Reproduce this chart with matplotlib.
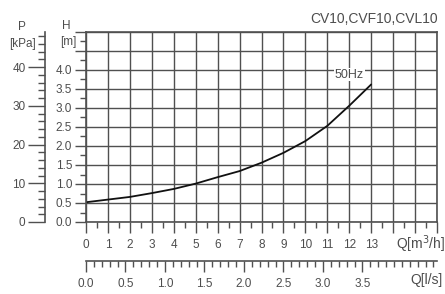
import numpy as np
import matplotlib
matplotlib.use("Agg")
import matplotlib.pyplot as plt
from matplotlib.ticker import FixedLocator

plt.rcParams['font.family'] = ['Liberation Sans', 'DejaVu Sans']

# curve
q_m3h = [0, 1, 2, 3, 4, 5, 6, 7, 8, 9, 10, 11, 12, 13]
head_m = [0.52, 0.59, 0.66, 0.76, 0.87, 1.01, 1.18, 1.34, 1.56, 1.82, 2.13, 2.53, 3.06, 3.62]

title = "CV10,CVF10,CVL10"
curve_label = "50Hz"
q_labels = [str(i) for i in range(14)]
ls_labels = ["0.0", "0.5", "1.0", "1.5", "2.0", "2.5", "3.0", "3.5"]
h_labels = ["0.0", "0.5", "1.0", "1.5", "2.0", "2.5", "3.0", "3.5", "4.0"]
p_labels = ["0", "10", "20", "30", "40"]

txt = '#4d4d4d'
grid = '#505050'
fs = 8.5

W, H = 445, 294
fig = plt.figure(figsize=(W / 100, H / 100), dpi=100)

left, right, top, bottom = 86, 437, 32, 222
ax = fig.add_axes([left / W, 1 - bottom / H, (right - left) / W, (bottom - top) / H])
ax.set_xlim(0, 16)
ax.set_ylim(0, 5)
ax.set_xticks(np.arange(0, 17, 1))
ax.set_xticklabels(q_labels + ['', '', ''])
ax.xaxis.set_minor_locator(FixedLocator(np.arange(0, 16, 0.5)))
ax.set_yticks(np.arange(0, 5.01, 0.5))
ax.set_yticklabels(h_labels + ['', ''])
ax.yaxis.set_minor_locator(FixedLocator(np.arange(0, 5, 0.25)))
ax.grid(True, which='major', color=grid, lw=1.0)
for s in ax.spines.values():
    s.set_color(grid)
    s.set_linewidth(1.2)
ax.tick_params(which='major', direction='out', length=8, width=1.0, color=grid,
               labelcolor=txt, labelsize=fs, pad=2)
ax.tick_params(which='minor', direction='out', length=4, width=1.0, color=grid)
ax.tick_params(axis='x', which='major', pad=4)

ax.plot(q_m3h, head_m, color='#111111', lw=1.3, solid_capstyle='round')
ax.text(12.0, 3.88, curve_label, ha='center', va='center', color=txt, fontsize=9,
        bbox=dict(facecolor='white', edgecolor='none', pad=0.5))

# pressure axis on the far left
pax = fig.add_axes([45 / W, 1 - bottom / H, 0.0001, (bottom - top) / H])
pax.set_ylim(0, 5 * 9.81)
for k in ['top', 'right', 'bottom']:
    pax.spines[k].set_visible(False)
pax.spines['left'].set_color(grid)
pax.spines['left'].set_linewidth(1.2)
pax.set_xticks([])
pax.set_yticks([0, 10, 20, 30, 40])
pax.set_yticklabels(p_labels)
pax.yaxis.set_minor_locator(FixedLocator(np.arange(0, 49, 2)))
pax.tick_params(which='major', direction='out', length=12, width=1.0, color=grid,
                labelcolor=txt, labelsize=fs, pad=2)
pax.tick_params(which='minor', direction='out', length=5, width=1.0, color=grid)

# flow in l/s axis
lax = fig.add_axes([left / W, 1 - 261 / H, (right - left) / W, 0.0001])
lax.set_xlim(0, 16 / 3.6)
for k in ['left', 'right', 'bottom']:
    lax.spines[k].set_visible(False)
lax.spines['top'].set_color(grid)
lax.spines['top'].set_linewidth(1.2)
lax.set_yticks([])
lax.xaxis.set_ticks_position('top')
lax.set_xticks(np.arange(0, 3.51, 0.5))
lax.set_xticklabels(ls_labels)
lax.xaxis.set_minor_locator(FixedLocator(np.arange(0, 4.45, 0.1)))
lax.tick_params(axis='x', which='major', direction='in', length=8, width=1.0, color=grid,
                labelcolor=txt, labelsize=fs, labeltop=False, labelbottom=True, pad=12)
lax.tick_params(axis='x', which='minor', direction='in', length=4, width=1.0, color=grid)

fig.text(22 / W, 1 - 27 / H, "P", ha='center', va='center', color=txt, fontsize=fs)
fig.text(22 / W, 1 - 44 / H, "[kPa]", ha='center', va='center', color=txt, fontsize=fs)
fig.text(66 / W, 1 - 26 / H, "H", ha='center', va='center', color=txt, fontsize=fs)
fig.text(68 / W, 1 - 42 / H, "[m]", ha='center', va='center', color=txt, fontsize=fs)
fig.text(438 / W, 1 - 19 / H, title, ha='right', va='center', color=txt, fontsize=10)
fig.text(445 / W, 1 - 244 / H, r"Q[m$^3$/h]", ha='right', va='center', color=txt, fontsize=10)
fig.text(443 / W, 1 - 280 / H, "Q[l/s]", ha='right', va='center', color=txt, fontsize=10)

fig.savefig("out.png", dpi=100, facecolor='white')
